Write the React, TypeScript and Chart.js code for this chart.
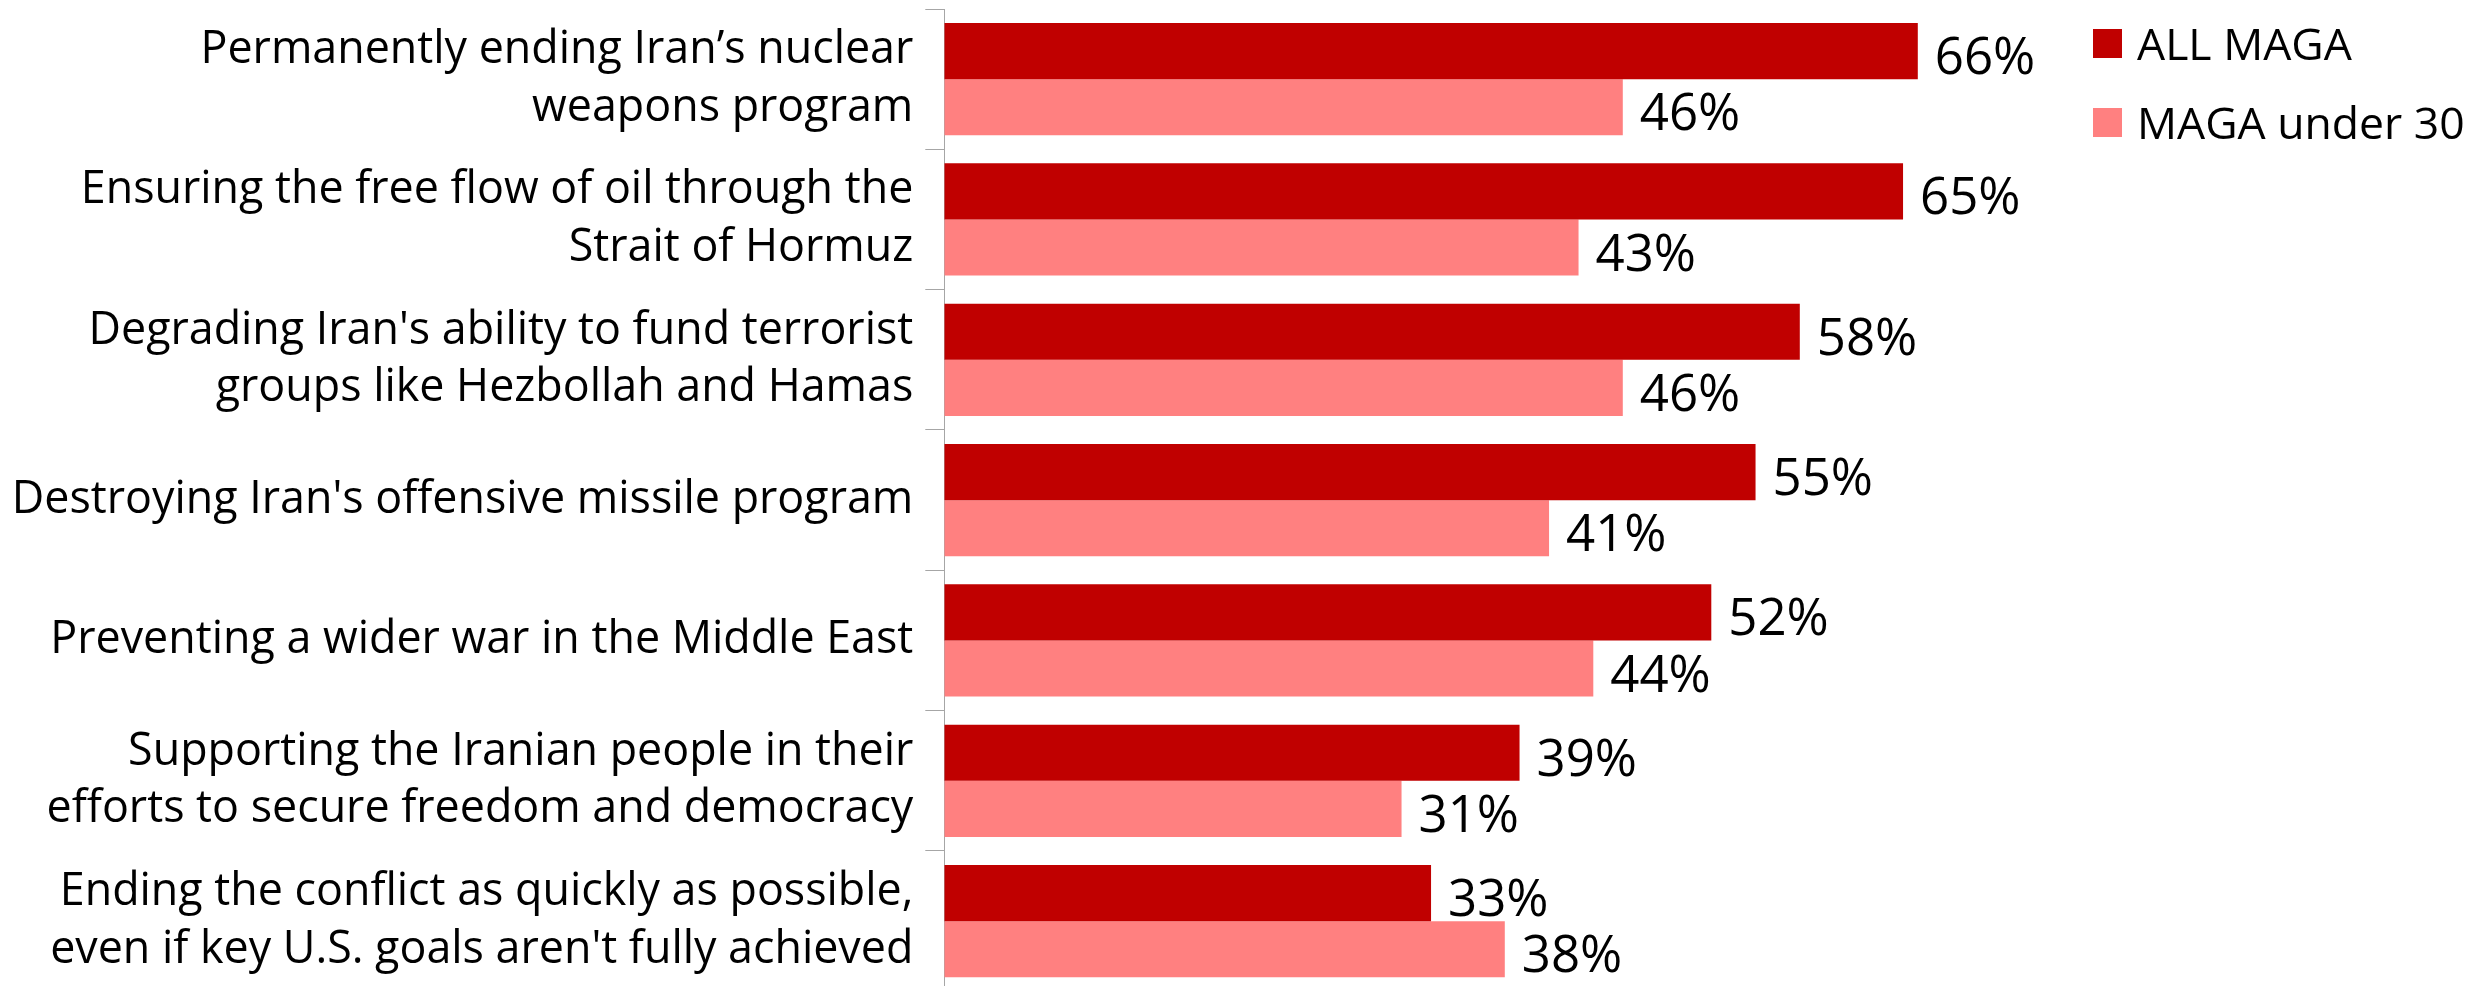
import React, { useEffect, useRef } from "react";
import { Chart, registerables } from "chart.js";

Chart.register(...registerables);

const categories: (string | string[])[] = [
  ["Permanently ending Iran\u2019s nuclear", "weapons program"],
  ["Ensuring the free flow of oil through the", "Strait of Hormuz"],
  ["Degrading Iran's ability to fund terrorist", "groups like Hezbollah and Hamas"],
  "Destroying Iran's offensive missile program",
  "Preventing a wider war in the Middle East",
  ["Supporting the Iranian people in their", "efforts to secure freedom and democracy"],
  ["Ending the conflict as quickly as possible,", "even if key U.S. goals aren't fully achieved"],
];

const allMaga = [66, 65, 58, 55, 52, 39, 33];
const magaUnder30 = [46, 43, 46, 41, 44, 31, 38];

const seriesNames = ["ALL MAGA", "MAGA under 30"];
const seriesColors = ["#C00000", "#FF8080"];

const FONT = "'Open Sans', 'Noto Sans', sans-serif";

const dataLabelPlugin = {
  id: "dataLabels",
  afterDatasetsDraw(chart: any) {
    const ctx = chart.ctx;
    ctx.save();
    ctx.fillStyle = "#000000";
    ctx.font = `51px ${FONT}`;
    ctx.textAlign = "left";
    ctx.textBaseline = "alphabetic";
    chart.data.datasets.forEach((ds: any, di: number) => {
      const meta = chart.getDatasetMeta(di);
      meta.data.forEach((el: any, i: number) => {
        ctx.fillText(`${ds.data[i]}%`, el.x + 17, el.y + 23);
      });
    });
    ctx.restore();
  },
};

const legendPlugin = {
  id: "customLegend",
  afterDraw(chart: any) {
    const ctx = chart.ctx;
    ctx.save();
    const boxX = 2093;
    const box = 29;
    const textX = 2137;
    const rowTop = 29;
    const rowGap = 79;
    ctx.font = `44.5px ${FONT}`;
    ctx.textAlign = "left";
    ctx.textBaseline = "alphabetic";
    chart.data.datasets.forEach((ds: any, i: number) => {
      const y = rowTop + i * rowGap;
      ctx.fillStyle = ds.backgroundColor;
      ctx.fillRect(boxX, y, box, box);
      ctx.fillStyle = "#000000";
      ctx.fillText(ds.label, textX, y + 31);
    });
    ctx.restore();
  },
};

export default function App() {
  const canvasRef = useRef<HTMLCanvasElement | null>(null);

  useEffect(() => {
    let chart: Chart | null = null;
    let cancelled = false;
    const make = () => {
      if (cancelled || !canvasRef.current) return;
      chart = new Chart(canvasRef.current, {
        type: "bar",
        data: {
          labels: categories,
          datasets: [
            {
              label: seriesNames[0],
              data: allMaga,
              backgroundColor: seriesColors[0],
              categoryPercentage: 0.8,
              barPercentage: 1.0,
            },
            {
              label: seriesNames[1],
              data: magaUnder30,
              backgroundColor: seriesColors[1],
              categoryPercentage: 0.8,
              barPercentage: 1.0,
            },
          ],
        },
        options: {
          indexAxis: "y",
          responsive: false,
          animation: false,
          devicePixelRatio: 1,
          layout: { padding: { left: 0, top: 9, right: 356.7, bottom: 8.7 } },
          plugins: {
            legend: { display: false },
            tooltip: { enabled: false },
          },
          scales: {
            x: { display: false, min: 0, max: 80 },
            y: {
              type: "category",
              offset: true,
              afterFit: (scale: any) => {
                scale.width = 944.3;
                scale.paddingTop = 0;
                scale.paddingBottom = 0;
              },
              grid: {
                offset: true,
                drawOnChartArea: false,
                drawTicks: true,
                tickLength: 19,
                color: "#A6A6A6",
                lineWidth: 1,
              },
              border: { display: true, color: "#A6A6A6", width: 1 },
              ticks: {
                autoSkip: false,
                padding: 12,
                color: "#000000",
                font: { family: FONT, size: 44.8, lineHeight: 1.29 },
              },
            },
          },
        },
        plugins: [dataLabelPlugin, legendPlugin],
      } as any);
    };
    const fontsReady = (document as any).fonts
      ? Promise.all([
          (document as any).fonts.load(`44px 'Open Sans'`),
          (document as any).fonts.load(`51px 'Open Sans'`),
        ]).catch(() => null)
      : Promise.resolve(null);
    fontsReady.then(make);
    return () => {
      cancelled = true;
      if (chart) chart.destroy();
    };
  }, []);

  return (
    <div
      style={{
        position: "absolute",
        left: 0,
        top: 0,
        width: 2481,
        height: 986,
        overflow: "hidden",
        background: "#ffffff",
      }}
    >
      <canvas
        ref={canvasRef}
        width={2481}
        height={1000}
        style={{ display: "block", width: 2481, height: 1000 }}
      />
    </div>
  );
}
